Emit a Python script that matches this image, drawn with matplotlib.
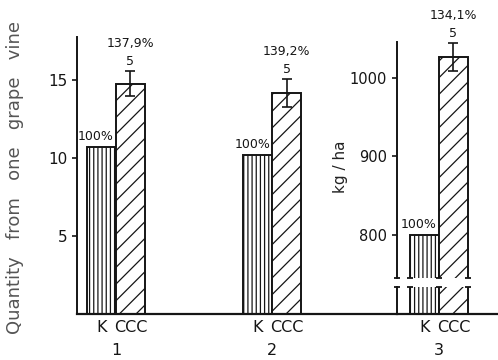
import matplotlib.pyplot as plt
import matplotlib.transforms as mtransforms

# values
groups = ['1', '2']
k_vals = [10.7, 10.2]          # quantity from one grape vine, control
ccc_vals = [14.8, 14.2]        # quantity from one grape vine, CCC
ccc_err = [0.8, 0.9]
ccc_pct = ['137,9%', '139,2%']

group3 = '3'
k_yield = 800                  # kg/ha, control
ccc_yield = 1027               # kg/ha, CCC
ccc_yield_err = 18
ccc_yield_pct = '134,1%'

k_pct = '100%'
n_rep = '5'
treatments = ['K', 'CCC']

W, H = 498, 360
ink = '#151515'
plt.rcParams['font.family'] = ['DejaVu Sans']
plt.rcParams['hatch.linewidth'] = 0.9
plt.rcParams['hatch.color'] = ink


def rect(x0, y0, x1, y1):
    return [x0 / W, 1 - y1 / H, (x1 - x0) / W, (y1 - y0) / H]


fig = plt.figure(figsize=(W / 100, H / 100), dpi=100)
ax1 = fig.add_axes(rect(77, 37, 397, 313.5))
ax3 = fig.add_axes(rect(397, 42, 498, 278))
ax3b = fig.add_axes(rect(397, 287, 498, 313.5))

w = 0.185
bar_kw = dict(align='edge', color='white', edgecolor=ink, linewidth=1.4)
err_kw = dict(fmt='none', ecolor=ink, elinewidth=1.2, capsize=3.5, capthick=1.2, clip_on=False)

# panels 1 and 2
xs = list(range(len(groups)))
ax1.bar([x - w for x in xs], k_vals, w, hatch='||||', **bar_kw)
ax1.bar(xs, ccc_vals, w, hatch='//', **bar_kw)
ax1.errorbar([x + w / 2 for x in xs], ccc_vals, yerr=ccc_err, **err_kw)
for x, kv, cv, ce, p in zip(xs, k_vals, ccc_vals, ccc_err, ccc_pct):
    ax1.annotate(k_pct, (x - w / 2, kv), xytext=(-4, 3), textcoords='offset points',
                 ha='center', va='bottom', fontsize=9, color=ink)
    ax1.annotate(n_rep, (x + w / 2, cv + ce), xytext=(0, 2), textcoords='offset points',
                 ha='center', va='bottom', fontsize=9, color=ink)
    ax1.annotate(p, (x + w / 2, cv + ce), xytext=(0, 15), textcoords='offset points',
                 ha='center', va='bottom', fontsize=9, color=ink)

ax1.set_xlim(-0.25, 1.80)
ax1.set_ylim(0, 17.8)
ax1.set_yticks([5, 10, 15])
ax1.set_xticks([x - w / 2 for x in xs] + [x + w / 2 for x in xs])
ax1.set_xticklabels(['K'] * len(xs) + ['CCC'] * len(xs))
ax1.set_xticks(xs, minor=True)
ax1.set_xticklabels(groups, minor=True)

# panel 3 (broken axis)
for a in (ax3, ax3b):
    a.bar([-w], [k_yield], w, hatch='||||', **bar_kw)
    a.bar([0], [ccc_yield], w, hatch='//', **bar_kw)
    a.set_xlim(-0.269, 0.378)
ax3.errorbar([w / 2], [ccc_yield], yerr=[ccc_yield_err], **err_kw)
ax3.annotate(k_pct, (-w / 2, k_yield), xytext=(-4, 3), textcoords='offset points',
             ha='center', va='bottom', fontsize=9, color=ink)
ax3.annotate(n_rep, (w / 2, ccc_yield + ccc_yield_err), xytext=(0, 2), textcoords='offset points',
             ha='center', va='bottom', fontsize=9, color=ink, annotation_clip=False)
ax3.annotate(ccc_yield_pct, (w / 2, ccc_yield + ccc_yield_err), xytext=(0, 15),
             textcoords='offset points', ha='center', va='bottom', fontsize=9, color=ink,
             annotation_clip=False)
ax3.set_ylim(745, 1046)
ax3.set_yticks([800, 900, 1000])
ax3.set_xticks([])
ax3b.set_ylim(0, 100)
ax3b.set_yticks([])
ax3b.set_xticks([-w / 2, w / 2])
ax3b.set_xticklabels(treatments)
ax3b.set_xticks([0], minor=True)
ax3b.set_xticklabels([group3], minor=True)

# break marks on axis line and bar edges
edges = [-0.269, -w, 0, w]
for a, yy in ((ax3, 0), (ax3b, 1)):
    tr = mtransforms.blended_transform_factory(a.transData, a.transAxes)
    a.plot(edges, [yy] * len(edges), ls='none', marker='_', ms=5, mew=1.3,
           color=ink, transform=tr, clip_on=False)

# spines and ticks
for a in (ax1, ax3, ax3b):
    for s in ('top', 'right'):
        a.spines[s].set_visible(False)
    a.spines['left'].set_linewidth(1.4)
    a.spines['bottom'].set_linewidth(1.6)
    a.spines['left'].set_color(ink)
    a.spines['bottom'].set_color(ink)
    a.tick_params(axis='x', which='major', length=0, pad=5, labelsize=11.5, colors=ink)
    a.tick_params(axis='x', which='minor', length=0, pad=21, labelsize=11.5, colors=ink)
    a.tick_params(axis='y', length=3.5, width=1.2, direction='out', colors=ink)
ax3.spines['bottom'].set_visible(False)
ax1.tick_params(axis='y', labelsize=11)
ax3.tick_params(axis='y', labelsize=10.5)

fig.text(15 / W, 1 - 178 / H, 'Quantity   from   one   grape   vine', rotation=90,
         ha='center', va='center', fontsize=13, color='#555555')
fig.text(340 / W, 1 - 167 / H, 'kg / ha', rotation=90, ha='center', va='center',
         fontsize=11, color='#222222')

fig.savefig('out.png', dpi=100, facecolor='white')
